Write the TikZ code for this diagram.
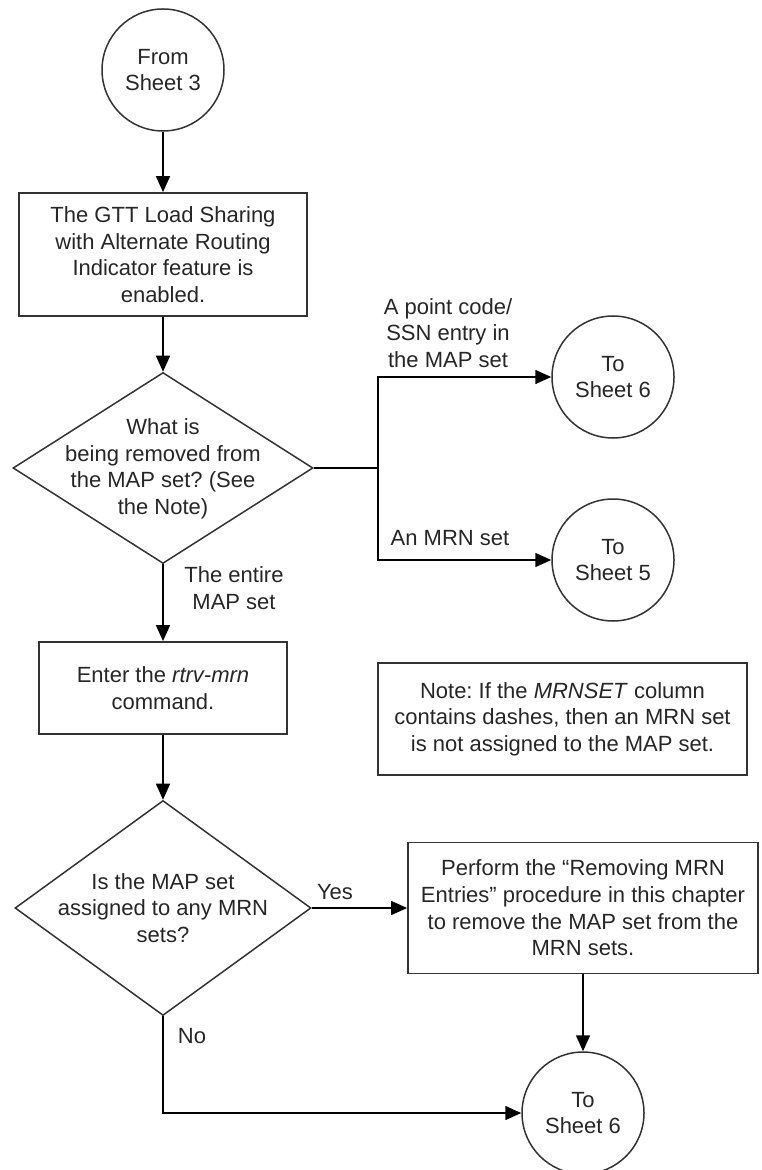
\documentclass[tikz,border=0pt]{standalone}
\usepackage{fontspec}
\setmainfont{Liberation Sans}
\usetikzlibrary{arrows.meta,shapes.geometric}
\frenchspacing

\begin{document}
\begin{tikzpicture}[x=0.5pt,y=-0.5pt]
\tikzset{
  flowtext/.style={align=center,font=\fontsize{11}{13.3}\selectfont,text=black!85,inner sep=0pt},
  flowbox/.style={rectangle,draw=black!80,line width=0.9pt,flowtext},
  flowcircle/.style={circle,draw=black!80,line width=0.75pt,minimum size=61pt,flowtext},
  flowdiamond/.style={diamond,draw=black!80,line width=0.75pt,inner sep=0pt},
  flowedge/.style={draw=black,line width=0.75pt},
  flowarrow/.style={flowedge,-{Triangle[length=8pt,width=7pt]}}
}
\useasboundingbox (0,0) rectangle (761,1170);
\node[flowcircle] (n_from) at (163,70) {From\\Sheet 3};
\node[flowbox,minimum width=144pt,minimum height=61.5pt] (n_gtt) at (163,254.5) {The GTT Load Sharing\\with Alternate Routing\\Indicator feature is\\enabled.};
\node[flowdiamond,minimum width=150pt,minimum height=95.5pt] (n_what) at (163,468) {};
\node[flowtext] (n_what_txt) at (163,469) {What is\\being removed from\\the MAP set? (See\\the Note)};
\coordinate (c_split) at (378,468);
\node[flowcircle] (n_to6) at (613,377) {To\\Sheet 6};
\node[flowcircle] (n_to5) at (613,560) {To\\Sheet 5};
\node[flowtext] (l_point) at (448,333) {A point code/\\SSN entry in\\the MAP set};
\node[flowtext] (l_mrn) at (450,538) {An MRN set};
\node[flowtext] (l_entire) at (234,588) {The entire\\MAP set};
\node[flowbox,minimum width=124pt,minimum height=46pt] (n_enter) at (163,688) {Enter the \textit{rtrv-mrn}\\command.};
\node[flowbox,minimum width=184.5pt,minimum height=56pt] (n_note) at (562.5,719) {Note: If the \textit{MRNSET} column\\contains dashes, then an MRN set\\is not assigned to the MAP set.};
\node[flowdiamond,minimum width=148pt,minimum height=107.5pt] (n_assigned) at (163,908) {};
\node[flowtext] (n_assigned_txt) at (163,908) {Is the MAP set\\assigned to any MRN\\sets?};
\node[flowbox,minimum width=175pt,minimum height=65.5pt] (n_perform) at (583,908) {Perform the ``Removing MRN\\Entries'' procedure in this chapter\\to remove the MAP set from the\\MRN sets.};
\node[flowcircle] (n_to6b) at (583,1113) {To\\Sheet 6};
\node[flowtext] (l_yes) at (335,892) {Yes};
\node[flowtext] (l_no) at (192,1036) {No};
\draw[flowarrow] (n_from) -- (n_gtt);
\draw[flowarrow] (n_gtt) -- (n_what);
\draw[flowedge] (n_what.east) -- (c_split);
\draw[flowarrow] (c_split) |- (n_to6);
\draw[flowarrow] (c_split) |- (n_to5);
\draw[flowarrow] (n_what) -- (n_enter);
\draw[flowarrow] (n_enter) -- (n_assigned);
\draw[flowarrow] (n_assigned) -- (n_perform);
\draw[flowarrow] (n_perform) -- (n_to6b);
\draw[flowarrow] (n_assigned.south) |- (n_to6b);
\end{tikzpicture}
\end{document}
